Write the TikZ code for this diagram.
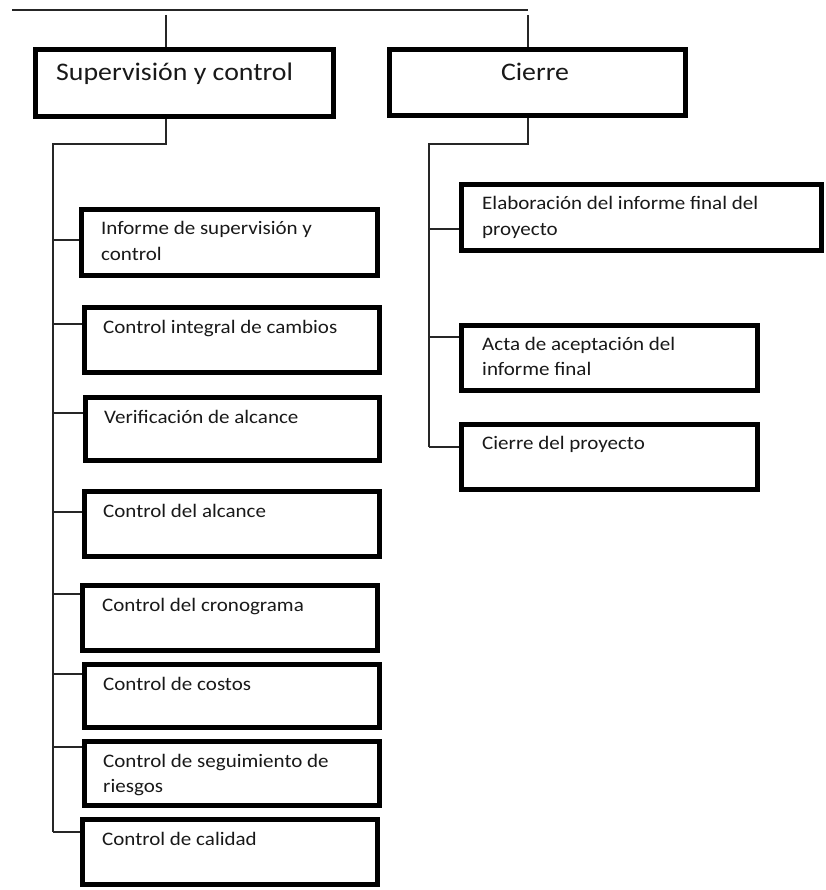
\documentclass[tikz,border=0pt]{standalone}
\usepackage{fontspec}
\setmainfont{Carlito}[FakeStretch=1.1]
\begin{document}
\begin{tikzpicture}[x=1pt,y=-1pt,
  frame/.style={draw=black, line width=4.7pt, inner sep=0pt, outer sep=2.35pt, fill=white},
  lbl/.style={inner sep=0pt, text=black!90, font=\fontsize{19.1}{25.5}\selectfont, align=left},
  head/.style={inner sep=0pt, text=black!90, font=\fontsize{25.3}{32}\selectfont},
  wire/.style={draw=black!85, line width=1.3pt}
]
\useasboundingbox (0,0) rectangle (825,890);

% box from outer corners: name, x1, y1, x2, y2
\newcommand\wbsnode[5]{%
  \node[frame, minimum width={#4-#2-4.7}, minimum height={#5-#3-4.7}]
    (#1) at ({(#2+#4)/2},{(#3+#5)/2}) {};}

% top level
\wbsnode{sup}{33}{47}{336}{119}
\wbsnode{cie}{387}{47}{688}{118}
\node[head, anchor=base west] (suptxt) at ([shift={(23,34)}]sup.north west) {Supervisión y control};
\node[head, anchor=base] (cietxt) at (535,81) {Cierre};

% supervision column
\wbsnode{b1}{79}{207}{380}{278}
\wbsnode{b2}{82}{305}{382}{375}
\wbsnode{b3}{83}{395}{382}{463}
\wbsnode{b4}{82}{489}{382}{559}
\wbsnode{b5}{80}{583}{380}{653}
\wbsnode{b6}{82}{662}{382}{730}
\wbsnode{b7}{82}{739}{382}{808}
\wbsnode{b8}{80}{817}{380}{887}

% closing column
\wbsnode{r1}{459}{182}{824}{253}
\wbsnode{r2}{459}{323}{760}{393}
\wbsnode{r3}{459}{422}{760}{492}

% labels (base anchor of a two-line label sits on its second line)
\node[lbl, anchor=base west] (t1) at ([shift={(22,53.5)}]b1.north west) {Informe de supervisión y\\control};
\node[lbl, anchor=base west] (t2) at ([shift={(21,28)}]b2.north west) {Control integral de cambios};
\node[lbl, anchor=base west] (t3) at ([shift={(21,28)}]b3.north west) {Verificación de alcance};
\node[lbl, anchor=base west] (t4) at ([shift={(21,28)}]b4.north west) {Control del alcance};
\node[lbl, anchor=base west] (t5) at ([shift={(22,28)}]b5.north west) {Control del cronograma};
\node[lbl, anchor=base west] (t6) at ([shift={(21,28)}]b6.north west) {Control de costos};
\node[lbl, anchor=base west] (t7) at ([shift={(21,53.5)}]b7.north west) {Control de seguimiento de\\riesgos};
\node[lbl, anchor=base west] (t8) at ([shift={(22,28)}]b8.north west) {Control de calidad};
\node[lbl, anchor=base west] (u1) at ([shift={(23,53.5)}]r1.north west) {Elaboración del informe final del\\proyecto};
\node[lbl, anchor=base west] (u2) at ([shift={(23,52.5)}]r2.north west) {Acta de aceptación del\\informe final};
\node[lbl, anchor=base west] (u3) at ([shift={(23,27)}]r3.north west) {Cierre del proyecto};

% top bar and drops
\coordinate (barL) at (12,10);
\coordinate (barR) at (528,10);
\coordinate (dropS) at (166,15);
\coordinate (dropC) at (528,15);
\draw[wire] (barL) -- (barR);
\draw[wire] (dropS) -- (dropS |- sup.north);
\draw[wire] (dropC) -- (dropC |- cie.north);

% supervision spine
\coordinate (sS) at (166,144);
\coordinate (spL) at (53,144);
\coordinate (spE) at (53,832);
\draw[wire] (sS |- sup.south) -- (sS) -- (spL) -- (spE);
\foreach \b/\y in {b1/240, b2/324, b3/413, b4/512, b5/594, b6/674, b7/747, b8/832}
  \draw[wire] (53,\y) -- (\b.west |- 0,\y);

% closing spine
\coordinate (cS) at (528,144);
\coordinate (cpL) at (429,144);
\coordinate (cpE) at (429,447);
\draw[wire] (cS |- cie.south) -- (cS) -- (cpL) -- (cpE);
\foreach \b/\y in {r1/229, r2/337, r3/447}
  \draw[wire] (429,\y) -- (\b.west |- 0,\y);
\end{tikzpicture}
\end{document}
